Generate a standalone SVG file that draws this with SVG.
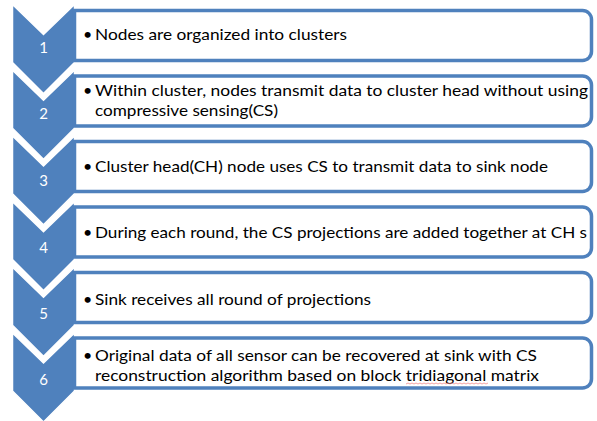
<svg xmlns="http://www.w3.org/2000/svg" width="597" height="421" viewBox="0 0 597 421">
<style>
.chev{fill:#4F81BD;stroke:#FFFFFF;stroke-width:1.5}
.box{fill:#FFFFFF;stroke:#4F81BD;stroke-width:3.5}
.num{font-family:Lato,"Liberation Sans",sans-serif;font-size:15px;fill:#FFFFFF;text-anchor:middle}
.txt{font-family:Lato,"Liberation Sans",sans-serif;font-size:16px;fill:#000000}
</style>
<rect width="597" height="421" fill="#FFFFFF"/>
<g id="step1">
<polygon class="chev" points="12.5,4.5 43.5,34.5 74.5,4.5 74.5,62.5 43.5,93.5 12.5,62.5"/>
<text class="num" x="43.5" y="53">1</text>
<path class="box" d="M74.5,10.5 H582.5 A9,9 0 0 1 591.5,19.5 V51.5 A9,9 0 0 1 582.5,60.5 H74.5 Z"/>
<text class="txt" x="83" y="39.5">•</text>
<text class="txt" x="95" y="39.5" textLength="252" lengthAdjust="spacingAndGlyphs">Nodes are organized into clusters</text>
</g>
<g id="step2">
<polygon class="chev" points="12.5,70.2 43.5,100.2 74.5,70.2 74.5,128.2 43.5,159.2 12.5,128.2"/>
<text class="num" x="43.5" y="119">2</text>
<path class="box" d="M74.5,76 H582.5 A9,9 0 0 1 591.5,85 V117 A9,9 0 0 1 582.5,126 H74.5 Z"/>
<text class="txt" x="83" y="95.5">•</text>
<text class="txt" x="95" y="95.5" textLength="493" lengthAdjust="spacingAndGlyphs">Within cluster, nodes transmit data to cluster head without using</text>
<text class="txt" x="95" y="115.5" textLength="183" lengthAdjust="spacingAndGlyphs">compressive sensing(CS)</text>
</g>
<g id="step3">
<polygon class="chev" points="12.5,135.9 43.5,165.9 74.5,135.9 74.5,193.9 43.5,224.9 12.5,193.9"/>
<text class="num" x="43.5" y="186">3</text>
<path class="box" d="M74.5,141.5 H582.5 A9,9 0 0 1 591.5,150.5 V182.5 A9,9 0 0 1 582.5,191.5 H74.5 Z"/>
<text class="txt" x="83" y="171.5">•</text>
<text class="txt" x="95" y="171.5" textLength="453" lengthAdjust="spacingAndGlyphs">Cluster head(CH) node uses CS to transmit data to sink node</text>
</g>
<g id="step4">
<polygon class="chev" points="12.5,201.6 43.5,231.6 74.5,201.6 74.5,259.6 43.5,290.6 12.5,259.6"/>
<text class="num" x="43.5" y="252.5">4</text>
<path class="box" d="M74.5,207 H582.5 A9,9 0 0 1 591.5,216 V248 A9,9 0 0 1 582.5,257 H74.5 Z"/>
<text class="txt" x="83" y="238">•</text>
<text class="txt" x="95" y="238" textLength="492" lengthAdjust="spacingAndGlyphs">During each round, the CS projections are added together at CH s</text>
</g>
<g id="step5">
<polygon class="chev" points="12.5,267.3 43.5,297.3 74.5,267.3 74.5,325.3 43.5,356.3 12.5,325.3"/>
<text class="num" x="43.5" y="319">5</text>
<path class="box" d="M74.5,272.5 H582.5 A9,9 0 0 1 591.5,281.5 V313.5 A9,9 0 0 1 582.5,322.5 H74.5 Z"/>
<text class="txt" x="83" y="304.5">•</text>
<text class="txt" x="95" y="304.5" textLength="276" lengthAdjust="spacingAndGlyphs">Sink receives all round of projections</text>
</g>
<g id="step6">
<polygon class="chev" points="12.5,333 43.5,363 74.5,333 74.5,391 43.5,422 12.5,391"/>
<text class="num" x="43.5" y="385">6</text>
<path class="box" d="M74.5,338 H582.5 A9,9 0 0 1 591.5,347 V379 A9,9 0 0 1 582.5,388 H74.5 Z"/>
<text class="txt" x="83" y="360.5">•</text>
<text class="txt" x="95" y="360.5" textLength="442" lengthAdjust="spacingAndGlyphs">Original data of all sensor can be recovered at sink with CS</text>
<text class="txt" x="95" y="381" textLength="444" lengthAdjust="spacingAndGlyphs">reconstruction algorithm based on block tridiagonal matrix</text>
<path d="M406,384 l2,-1 l2,1 l2,-1 l2,1 l2,-1 l2,1 l2,-1 l2,1 l2,-1 l2,1 l2,-1 l2,1 l2,-1 l2,1 l2,-1 l2,1 l2,-1 l2,1 l2,-1 l2,1 l2,-1 l2,1 l2,-1 l2,1 l2,-1 l2,1 l2,-1 l2,1 l2,-1 l2,1 l2,-1 l2,1 l2,-1 l2,1 l2,-1 l2,1 l2,-1 l2,1 l2,-1 l2,1 l2,-1" fill="none" stroke="#F28B8B" stroke-width="0.8"/>
</g>
</svg>
